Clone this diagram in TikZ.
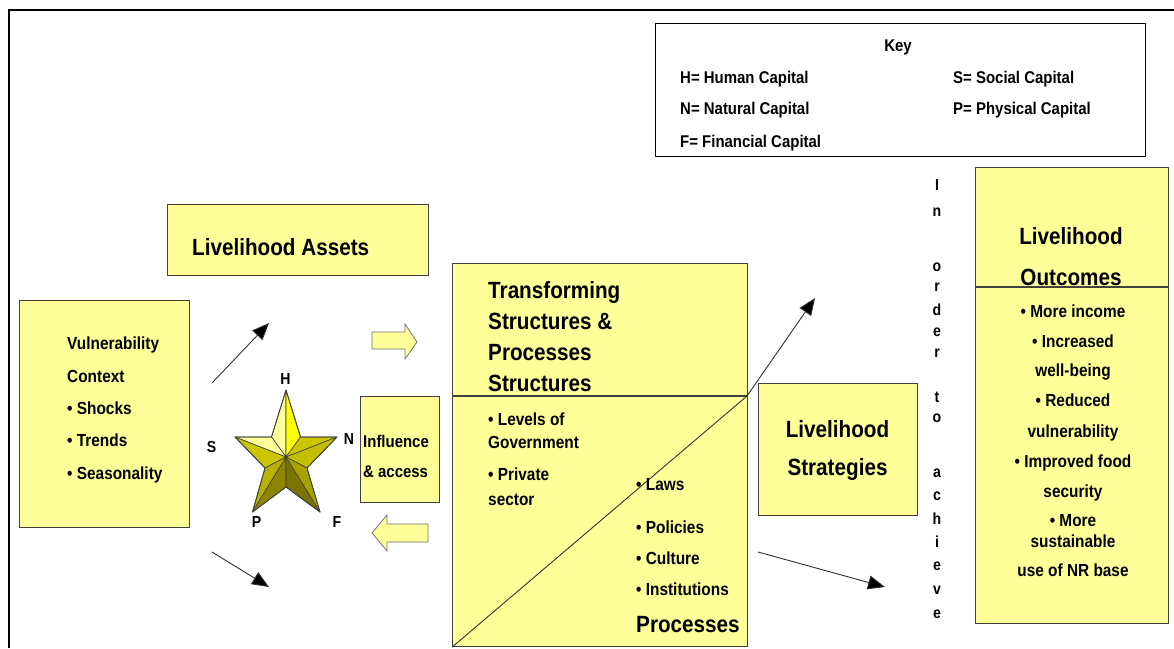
\documentclass[tikz,border=0pt]{standalone}
\usepackage{fontspec}
\setmainfont{Liberation Sans}[FakeStretch=0.88]
\usetikzlibrary{arrows.meta}
\definecolor{boxfill}{HTML}{FFFF99}
\definecolor{boxline}{HTML}{404040}
\definecolor{stA}{HTML}{FFFF99}
\definecolor{stB}{HTML}{FFFF00}
\definecolor{stC}{HTML}{CCC600}
\definecolor{stD}{HTML}{C4BE00}
\definecolor{stE}{HTML}{B8B200}
\definecolor{stF}{HTML}{8C8600}
\definecolor{stG}{HTML}{7A7400}
\definecolor{stH}{HTML}{A8A200}
\begin{document}
\begin{tikzpicture}[x=1pt,y=-1pt,
  box/.style={draw=boxline, line width=1.2pt, fill=boxfill, inner sep=0pt, anchor=north west},
  itm/.style={font=\fontsize{17.5}{20}\selectfont\bfseries, inner sep=0pt, anchor=base west},
  itmc/.style={font=\fontsize{17.5}{20}\selectfont\bfseries, inner sep=0pt, anchor=base},
  hdr/.style={font=\fontsize{23.5}{26}\selectfont\bfseries, inner sep=0pt, anchor=base west},
  hdrc/.style={font=\fontsize{23.5}{26}\selectfont\bfseries, inner sep=0pt, anchor=base},
  keyt/.style={font=\fontsize{17}{20}\selectfont\bfseries, inner sep=0pt, anchor=base west},
  lett/.style={font=\fontsize{16}{18}\selectfont\bfseries, inner sep=0pt},
  conn/.style={draw=black!80, line width=0.9pt, -{Triangle[length=17pt,width=14pt,fill=black]}},
  facet/.style={draw=black!75, line width=0.6pt, line join=round},
  blockarrow/.style={draw=black!55, line width=0.8pt, fill=boxfill, line join=miter}
]
\useasboundingbox (0,0) rectangle (1174,648);
\fill[white] (0,0) rectangle (1174,648);
% outer frame
\draw[line width=2pt] (9,648) -- (9,10) -- (1174,10);

% key
\node[box, fill=white, draw=black, minimum width=490pt, minimum height=133pt] (key) at (655,23) {};
\node[keyt, anchor=base] (keyh) at (898,51) {Key};
\node[keyt] (kh) at (680,83) {H= Human Capital};
\node[keyt] (kn) at (680,114) {N= Natural Capital};
\node[keyt] (kf) at (680,147) {F= Financial Capital};
\node[keyt] (ks) at (953,83) {S= Social Capital};
\node[keyt] (kp) at (953,114) {P= Physical Capital};

% livelihood assets
\node[box, minimum width=261pt, minimum height=71pt] (assets) at (167,204) {};
\node[hdr] (assetst) at (192,255) {Livelihood Assets};

% vulnerability context
\node[box, minimum width=170.5pt, minimum height=227pt] (vc) at (18.5,300) {};
\node[itm] (vc1) at (67,349) {Vulnerability};
\node[itm] (vc2) at (67,382) {Context};
\node[itm] (vc3) at (67,414) {• Shocks};
\node[itm] (vc4) at (67,446) {• Trends};
\node[itm] (vc5) at (67,479) {• Seasonality};

% arrows from vulnerability
\coordinate (a1s) at (212,383);
\coordinate (a1e) at (269,323);
\coordinate (a2s) at (212,552);
\coordinate (a2e) at (269,587);
\draw[conn] (a1s) -- (a1e);
\draw[conn] (a2s) -- (a2e);

% star
\coordinate (T) at (286,390);
\coordinate (UL) at (271.5,437);
\coordinate (L) at (235,437);
\coordinate (LL) at (265,468);
\coordinate (BL) at (252.5,512);
\coordinate (B) at (286,487);
\coordinate (BR) at (320,512);
\coordinate (LR) at (307,468);
\coordinate (R) at (337,437);
\coordinate (UR) at (300.5,437);
\coordinate (C) at (286,457);
\filldraw[facet, fill=stA] (T) -- (UL) -- (C) -- cycle;
\filldraw[facet, fill=stB] (T) -- (C) -- (UR) -- cycle;
\filldraw[facet, fill=stA] (L) -- (UL) -- (C) -- cycle;
\filldraw[facet, fill=stC] (L) -- (C) -- (LL) -- cycle;
\filldraw[facet, fill=stC] (UR) -- (R) -- (C) -- cycle;
\filldraw[facet, fill=stD] (R) -- (C) -- (LR) -- cycle;
\filldraw[facet, fill=stE] (LL) -- (BL) -- (C) -- cycle;
\filldraw[facet, fill=stF] (C) -- (BL) -- (B) -- cycle;
\filldraw[facet, fill=stG] (C) -- (B) -- (BR) -- cycle;
\filldraw[facet, fill=stH] (C) -- (BR) -- (LR) -- cycle;
\draw[facet, line width=0.9pt] (T) -- (UL) -- (L) -- (LL) -- (BL) -- (B) -- (BR) -- (LR) -- (R) -- (UR) -- cycle;
\node[lett] (lh) at (285.5,379) {H};
\node[lett] (ln) at (349,439) {N};
\node[lett] (ls) at (211.5,447) {S};
\node[lett] (lp) at (256.5,522) {P};
\node[lett] (lf) at (337,522) {F};

% block arrows
\filldraw[blockarrow] (372,332) -- (405,332) -- (405,324) -- (417,342) -- (405,359) -- (405,349) -- (372,349) -- cycle;
\filldraw[blockarrow] (428,524) -- (387,524) -- (387,515) -- (372,533) -- (387,551) -- (387,542) -- (428,542) -- cycle;

% influence & access
\node[box, minimum width=79pt, minimum height=106pt] (infl) at (360,396) {};
\node[itm, font=\fontsize{17}{20}\selectfont\bfseries] (infl1) at (363,447) {Influence};
\node[itm, font=\fontsize{17}{20}\selectfont\bfseries] (infl2) at (363,477) {\& access};

% transforming structures & processes
\node[box, minimum width=295pt, minimum height=383pt] (tsp) at (452,263) {};
\coordinate (d1) at (452,396);
\coordinate (d2) at (747,396);
\draw[boxline, line width=1.2pt] (d1) -- (d2);
\node[hdr] (t1) at (488,298.5) {Transforming};
\node[hdr] (t2) at (488,329.5) {Structures \&};
\node[hdr] (t3) at (488,360.5) {Processes};
\node[hdr] (t4) at (488,391.5) {Structures};
\node[itm] (s1) at (488,425) {• Levels of};
\node[itm] (s2) at (488,448) {Government};
\node[itm] (s3) at (488,480) {• Private};
\node[itm] (s4) at (488,505) {sector};
\coordinate (dtip) at (815,298);
\draw[draw=black!80, line width=0.9pt] (tsp.south west) -- (d2);
\draw[conn] (d2) -- (dtip);
\node[itm] (p1) at (636,490) {• Laws};
\node[itm] (p2) at (636,533) {• Policies};
\node[itm] (p3) at (636,564) {• Culture};
\node[itm] (p4) at (636,595) {• Institutions};
\node[hdr] (p5) at (636,632) {Processes};

% livelihood strategies
\node[box, minimum width=159pt, minimum height=132pt] (strat) at (758,383) {};
\node[hdrc] (st1) at (837.5,437.5) {Livelihood};
\node[hdrc] (st2) at (837.5,475) {Strategies};
\coordinate (a3s) at (758,552);
\coordinate (a3e) at (885,587);
\draw[conn] (a3s) -- (a3e);

% vertical text
\foreach \ch/\yy [count=\k] in {I/185,n/212,o/267,r/287,d/310,e/332,r/353,t/397,o/418,a/473,c/496,h/519,i/542,e/566,v/590,e/614}
  \node[lett] (vt\k) at (937,\yy) {\ch};

% livelihood outcomes
\node[box, minimum width=193pt, minimum height=456pt] (outc) at (975,167) {};
\coordinate (o1) at (975,287);
\coordinate (o2) at (1168,287);
\draw[boxline, line width=1.2pt] (o1) -- (o2);
\node[hdrc] (oh1) at (1071,244.5) {Livelihood};
\node[hdrc] (oh2) at (1071,285.5) {Outcomes};
\node[itmc] (oi1) at (1073,317) {• More income};
\node[itmc] (oi2) at (1073,347) {• Increased};
\node[itmc] (oi3) at (1073,376) {well-being};
\node[itmc] (oi4) at (1073,406) {• Reduced};
\node[itmc] (oi5) at (1073,437) {vulnerability};
\node[itmc] (oi6) at (1073,467) {• Improved food};
\node[itmc] (oi7) at (1073,497) {security};
\node[itmc] (oi8) at (1073,526) {• More};
\node[itmc] (oi9) at (1073,547) {sustainable};
\node[itmc] (oi10) at (1073,576) {use of NR base};
\end{tikzpicture}
\end{document}
